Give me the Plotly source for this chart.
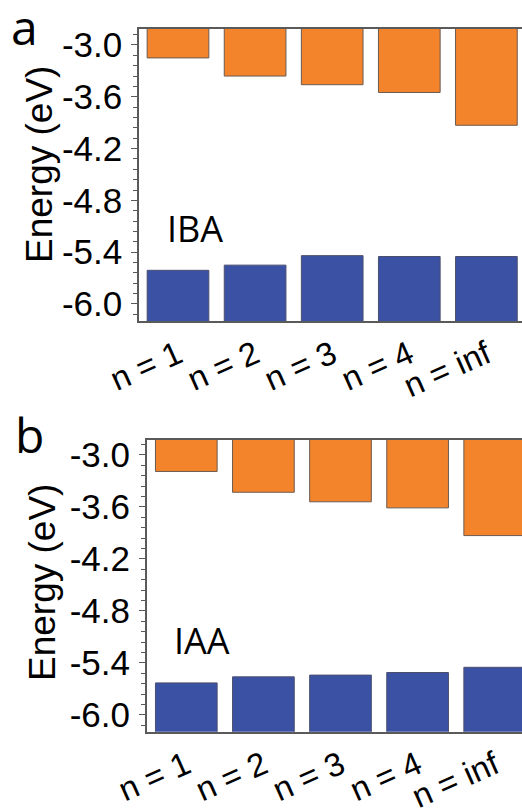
import plotly.graph_objects as go

W, H = 522, 808

categories = ["n = 1", "n = 2", "n = 3", "n = 4", "n = inf"]
iba_lumo = [-3.15, -3.36, -3.46, -3.55, -3.93]
iba_homo = [-5.61, -5.55, -5.44, -5.45, -5.45]
iaa_lumo = [-3.19, -3.43, -3.54, -3.61, -3.93]
iaa_homo = [-5.63, -5.56, -5.54, -5.51, -5.45]
ytick_vals = [-3.0, -3.6, -4.2, -4.8, -5.4, -6.0]
ytick_text = ["-3.0", "-3.6", "-4.2", "-4.8", "-5.4", "-6.0"]
panel_names = ["IBA", "IAA"]
panel_letters = ["a", "b"]

ORANGE = "#F4842C"
BLUE = "#3B51A3"
AXIS = "#5a5a5a"
FLOOR = -7.0


def px_x(p):
    return p / W


def px_y(p):
    return 1 - p / H


fig = go.Figure()

panels = [
    dict(lumo=iba_lumo, homo=iba_homo, xa="x", ya="y",
         left=139, top=29, bottom=321, right=522, c0=178.0,
         yr=[-6.197, -2.815]),
    dict(lumo=iaa_lumo, homo=iaa_homo, xa="x2", ya="y2",
         left=146.7, top=440, bottom=731.7, right=522, c0=186.3,
         yr=[-6.193, -2.827]),
]
step = 77.1

for i, p in enumerate(panels):
    fig.add_trace(go.Bar(x=categories, y=p["lumo"], marker_color=ORANGE,
                         marker_line=dict(color="#6a5a50", width=1),
                         xaxis=p["xa"], yaxis=p["ya"], showlegend=False))
    fig.add_trace(go.Bar(x=categories, base=[FLOOR] * len(p["homo"]),
                         y=[h - FLOOR for h in p["homo"]], marker_color=BLUE,
                         marker_line=dict(color="#4a4f70", width=1),
                         xaxis=p["xa"], yaxis=p["ya"], showlegend=False))

layout = dict(
    width=W, height=H, margin=dict(l=0, r=0, t=0, b=0, pad=0, autoexpand=False),
    paper_bgcolor="white", plot_bgcolor="white",
    barmode="overlay", bargap=0.2,
    font=dict(family="Liberation Sans, Arial", color="black"),
)

for i, p in enumerate(panels):
    sfx = "" if i == 0 else str(i + 1)
    lo = -(p["c0"] - p["left"]) / step
    hi = lo + (p["right"] - p["left"]) / step
    layout["xaxis" + sfx] = dict(
        domain=[px_x(p["left"]), 1.0],
        range=[lo, hi], autorange=False, automargin=False,
        anchor="y" + sfx,
        showline=True, linecolor=AXIS, linewidth=1.5, mirror=True,
        ticks="", showgrid=False, zeroline=False,
        tickangle=-24, tickfont=dict(size=33, family="Liberation Sans"),
    )
    layout["yaxis" + sfx] = dict(
        domain=[px_y(p["bottom"]), px_y(p["top"])],
        range=p["yr"], autorange=False, automargin=False,
        anchor="x" + sfx,
        showline=True, linecolor=AXIS, linewidth=1.5,
        ticks="outside", ticklen=6, tickwidth=1.2, tickcolor=AXIS,
        tickvals=ytick_vals, ticktext=ytick_text,
        minor=dict(dtick=0.12, tick0=-3.0, ticks="outside", ticklen=4,
                   tickwidth=1, tickcolor=AXIS),
        showgrid=False, zeroline=False,
        tickfont=dict(size=35, family="Liberation Sans"),
        ticklabelstandoff=2,
    )

fig.update_layout(**layout)

title_centers = [165, 583]
title_x = [40, 42]
name_pos = [(165, 228), (171.7, 640)]
letter_pos = [(24, 26), (29, 434)]
for i in range(2):
    fig.add_annotation(text="Energy (eV)", textangle=-90, showarrow=False,
                       xref="paper", yref="paper", x=px_x(title_x[i]), y=px_y(title_centers[i]),
                       xanchor="center", yanchor="middle",
                       font=dict(size=37, family="Liberation Sans"))
    fig.add_annotation(text=panel_names[i], showarrow=False,
                       xref="paper", yref="paper",
                       x=px_x(name_pos[i][0]), y=px_y(name_pos[i][1]),
                       xanchor="left", yanchor="middle",
                       font=dict(size=36, family="Open Sans"))
    fig.add_annotation(text=panel_letters[i], showarrow=False,
                       xref="paper", yref="paper",
                       x=px_x(letter_pos[i][0]), y=px_y(letter_pos[i][1]),
                       xanchor="center", yanchor="middle",
                       font=dict(size=48, family="Open Sans"))

fig.write_html("out.html", config={"displayModeBar": False},
               post_script="document.body.style.margin='0';document.body.style.overflow='hidden';")
